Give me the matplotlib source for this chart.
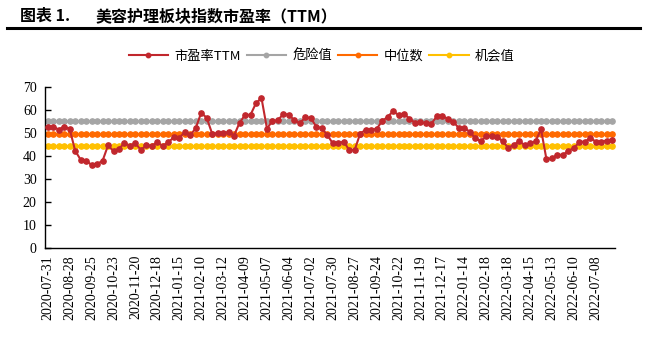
import matplotlib
matplotlib.use("Agg")
import matplotlib.pyplot as plt
from matplotlib.lines import Line2D

# ---- data ----
tick_labels = ["2020-07-31", "2020-08-28", "2020-09-25", "2020-10-23", "2020-11-20",
               "2020-12-18", "2021-01-15", "2021-02-10", "2021-03-12", "2021-04-09",
               "2021-05-07", "2021-06-04", "2021-07-02", "2021-07-30", "2021-08-27",
               "2021-09-24", "2021-10-22", "2021-11-19", "2021-12-17", "2022-01-14",
               "2022-02-18", "2022-03-18", "2022-04-15", "2022-05-13", "2022-06-10",
               "2022-07-08"]

pe_ttm = [52.8, 52.7, 51.5, 52.8, 51.8, 42.3, 38.4, 38.0, 36.1, 36.5,
          37.9, 44.6, 42.1, 43.2, 45.6, 44.5, 45.5, 42.6, 44.7, 44.5,
          45.9, 44.4, 46.0, 48.1, 47.7, 50.6, 49.0, 52.1, 58.8, 56.6,
          49.7, 49.9, 50.1, 50.4, 48.9, 54.5, 57.8, 57.9, 63.0, 65.2,
          51.9, 55.3, 55.5, 58.4, 57.9, 55.5, 54.3, 56.8, 56.5, 52.7,
          52.1, 49.2, 45.5, 45.5, 46.3, 42.6, 42.6, 49.7, 51.4, 51.4,
          51.8, 55.1, 57.0, 59.4, 57.9, 58.4, 56.2, 54.5, 54.6, 54.3,
          54.1, 57.3, 57.3, 56.2, 55.0, 52.1, 52.1, 50.6, 47.7, 46.5,
          48.5, 48.8, 48.4, 46.4, 43.6, 44.8, 46.4, 44.8, 45.5, 46.4,
          51.6, 38.5, 39.0, 40.5, 40.5, 42.2, 43.5, 46.0, 46.3, 47.7,
          46.3, 46.3, 46.7, 47.1]

danger_value = 55.4
median_value = 49.6
chance_value = 44.4

tick_step = 4
series_names = ["市盈率TTM", "危险值", "中位数", "机会值"]

# ---- figure ----
cjk = ['Noto Sans CJK SC', 'DejaVu Sans']
serif = ['Liberation Serif', 'DejaVu Serif']

fig = plt.figure(figsize=(6.46, 3.45), dpi=100)
ax = fig.add_axes([45 / 646, 1 - 248 / 345, 570 / 646, 161 / 345])

n = len(pe_ttm)
x = list(range(n))

c_red = "#C1272D"
c_gray = "#A5A5A5"
c_orange = "#FF6A00"
c_yellow = "#FFC000"

ms = 3.8
ax.plot(x, [chance_value] * n, color=c_yellow, lw=1.8, marker='o', ms=ms, zorder=2)
ax.plot(x, [median_value] * n, color=c_orange, lw=1.8, marker='o', ms=ms, zorder=2)
ax.plot(x, [danger_value] * n, color=c_gray, lw=1.8, marker='o', ms=ms, zorder=2)
ax.plot(x, pe_ttm, color=c_red, lw=1.5, marker='o', ms=ms, zorder=3)

ax.set_xlim(-0.5, n - 0.5)
ax.set_ylim(0, 70)
ax.set_yticks(range(0, 71, 10))
ax.set_xticks(range(0, len(tick_labels) * tick_step, tick_step))
ax.set_xticklabels(tick_labels, rotation=90, fontfamily=serif, fontsize=10)
for lab in ax.get_yticklabels():
    lab.set_fontfamily(serif)
    lab.set_fontsize(10)

for s in ["top", "right"]:
    ax.spines[s].set_visible(False)
ax.spines["left"].set_linewidth(1.0)
ax.spines["bottom"].set_linewidth(1.0)
ax.tick_params(axis='y', direction='in', length=4, width=1, pad=6)
ax.tick_params(axis='x', length=0, pad=5)

# legend
handles = [Line2D([], [], color=c, lw=1.5, marker='o', ms=3.2)
           for c in (c_red, c_gray, c_orange, c_yellow)]
fig.legend(handles, series_names, loc='center', bbox_to_anchor=(0.498, 1 - 56 / 345),
           ncol=4, frameon=False, prop={'family': cjk, 'size': 9.5},
           handlelength=3.0, handletextpad=0.5, columnspacing=0.4, markerscale=1.0)

# title
fig.text(20 / 646, 1 - 16 / 345, "图表 1.", fontfamily=cjk, fontsize=11.5,
         fontweight='bold', va='center', ha='left')
fig.text(96 / 646, 1 - 16 / 345, "美容护理板块指数市盈率（TTM）", fontfamily=cjk,
         fontsize=11.5, fontweight='bold', va='center', ha='left')
fig.add_artist(Line2D([7 / 646, 640 / 646], [1 - 28 / 345, 1 - 28 / 345],
                      color='black', lw=2.2, transform=fig.transFigure))

fig.savefig("out.png", dpi=100)
